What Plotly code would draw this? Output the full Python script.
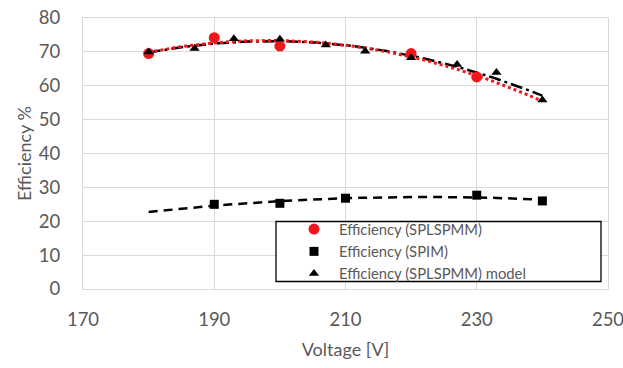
import numpy as np
import plotly.graph_objects as go

# Data
volt_spl = [180, 190, 200, 220, 230]
eff_spl = [69.5, 74.2, 71.7, 69.5, 62.6]

volt_spim = [190, 200, 210, 230, 240]
eff_spim = [25.0, 25.3, 26.8, 27.7, 26.0]

volt_model = [180, 187, 193, 200, 207, 213, 220, 227, 233, 240]
eff_model = [70.0, 71.0, 73.9, 73.7, 72.0, 70.2, 68.3, 66.3, 63.9, 55.8]

x_ticks = [170, 190, 210, 230, 250]
y_ticks = [0, 10, 20, 30, 40, 50, 60, 70, 80]

TXT = "#595959"
GRID = "#d9d9d9"
RED = "#f0161c"
FONT = "Lato"


def trend(xs, ys, x0, x1, order=2):
    c = np.polyfit(xs, ys, order)
    xx = np.linspace(x0, x1, 121)
    return xx, np.polyval(c, xx)


fig = go.Figure()

# trendlines (polynomial, as in the original spreadsheet chart)
tx, ty = trend(volt_spim, eff_spim, 180, 240)
fig.add_trace(go.Scatter(x=tx, y=ty, mode="lines", showlegend=False, hoverinfo="skip",
                         line=dict(color="black", width=2.5, dash="9px,6px")))
tx, ty = trend(volt_model, eff_model, 180, 240)
fig.add_trace(go.Scatter(x=tx, y=ty, mode="lines", showlegend=False, hoverinfo="skip",
                         line=dict(color="black", width=2.5, dash="12px,4px,3px,4px")))
tx, ty = trend(volt_spl, eff_spl, 180, 240)
fig.add_trace(go.Scatter(x=tx, y=ty, mode="lines", showlegend=False, hoverinfo="skip",
                         line=dict(color=RED, width=3, dash="3px,3px")))

fig.add_trace(go.Scatter(x=volt_spl, y=eff_spl, mode="markers", name="Efficiency (SPLSPMM)",
                         marker=dict(symbol="circle", color=RED, size=11)))
fig.add_trace(go.Scatter(x=volt_spim, y=eff_spim, mode="markers", name="Efficiency (SPIM)",
                         marker=dict(symbol="square", color="black", size=9)))
fig.add_trace(go.Scatter(x=volt_model, y=eff_model, mode="markers", name="Efficiency (SPLSPMM) model",
                         marker=dict(symbol="triangle-up", color="black", size=9)))

L, R, T, B = 83, 15, 18, 79
W, H = 623, 368
pw, ph = W - L - R, H - T - B


def px_x(p):
    return (p - L) / pw


def px_y(p):
    return (H - B - p) / ph


fig.add_shape(type="rect", xref="paper", yref="paper",
              x0=px_x(276), x1=px_x(601), y0=px_y(281.5), y1=px_y(221.5),
              line=dict(color="black", width=1.3), fillcolor="white", layer="above")

fig.update_layout(
    width=W, height=H,
    margin=dict(l=L, r=R, t=T, b=B, pad=0, autoexpand=False),
    paper_bgcolor="white", plot_bgcolor="white",
    font=dict(family=FONT, color=TXT, size=18),
    showlegend=True,
    legend=dict(x=px_x(289), y=px_y(213), xanchor="left", yanchor="top",
                bgcolor="rgba(0,0,0,0)", borderwidth=0,
                font=dict(family=FONT, size=14.8, color=TXT),
                itemwidth=40, tracegroupgap=0),
    xaxis=dict(range=[170, 250], tickvals=x_ticks, ticktext=[str(v) for v in x_ticks],
               showgrid=True, gridcolor=GRID, gridwidth=1.3,
               showline=True, linecolor=GRID, linewidth=1.3, mirror=True,
               zeroline=False, ticks="", ticklabelstandoff=14,
               ticklabeloverflow="allow", automargin=False,
               tickfont=dict(size=18.5, color=TXT),
               title=dict(text="Voltage [V]", font=dict(size=18, color=TXT), standoff=14)),
    yaxis=dict(range=[0, 80], tickvals=y_ticks, ticktext=[str(v) for v in y_ticks],
               showgrid=True, gridcolor=GRID, gridwidth=1.3,
               showline=True, linecolor=GRID, linewidth=1.3, mirror=True,
               zeroline=False, ticks="", ticklabelstandoff=18,
               ticklabeloverflow="allow", automargin=False,
               tickfont=dict(size=18.5, color=TXT),
               title=dict(text="Efficiency %", font=dict(size=18, color=TXT), standoff=2)),
)

fig.write_html("out.html")
